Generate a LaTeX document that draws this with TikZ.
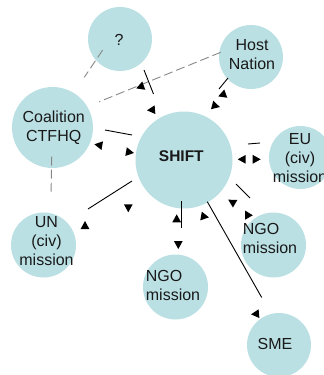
\documentclass[tikz,border=0pt]{standalone}
\usepackage{fontspec}
\setmainfont{Liberation Sans}
\definecolor{bubfill}{RGB}{186,224,228}
\definecolor{dashgray}{RGB}{135,135,135}
\begin{document}
\begin{tikzpicture}[x=1pt,y=1pt,
  bub/.style={circle,fill=bubfill,draw=none,inner sep=0pt},
  txt/.style={inner sep=0pt,align=center,font=\fontsize{16}{19}\selectfont,text=black!90},
  txtl/.style={txt,align=left},
  dashedge/.style={draw=dashgray,dash pattern=on 9pt off 4pt,line width=0.9pt},
  solidedge/.style={draw=black,line width=0.9pt},
  ahd/.pic={\fill[black] (4,0) -- (-4,4.4) -- (-4,-4.4) -- cycle;}]
\useasboundingbox (0,0) rectangle (324,-375);
\clip (0,0) rectangle (324,-375);
% bubbles
\node[bub,minimum size=64] (q) at (120,-39) {};
\node[bub,minimum size=64] (host) at (251,-57) {};
\node[bub,minimum size=81] (coal) at (52.5,-127.5) {};
\node[bub,minimum size=97] (shift) at (184,-160) {};
\node[bub,minimum size=63] (eu) at (300.5,-157.5) {};
\node[bub,minimum size=65] (un) at (43.5,-245) {};
\node[bub,minimum size=65] (ngob) at (175.5,-287) {};
\node[bub,minimum size=65] (ngor) at (273.5,-245) {};
\node[bub,minimum size=64] (sme) at (279,-345) {};
% texts
\node[txt] (qt) at (119,-39.5) {?};
\node[txt] (hostt) at (252,-54.2) {Host\\Nation};
\node[txt] (coalt) at (53.7,-128) {Coalition\\CTFHQ};
\node[txt,font=\fontsize{15.5}{19}\selectfont\bfseries] (shiftt) at (181.3,-156.5) {SHIFT};
\node[txt] (eut) at (300,-157.7) {EU\\(civ)\\mission};
\node[txt] (unt) at (46.5,-240.7) {UN\\(civ)\\mission};
\node[txtl] (ngobt) at (173,-285.9) {NGO\\mission};
\node[txtl] (ngort) at (270,-238.4) {NGO\\mission};
\node[txt] (smet) at (275,-343.5) {SME};
% connector end points
\coordinate (d1a) at (102.7,-50);  \coordinate (d1b) at (84.3,-77.3);
\coordinate (d2a) at (220.7,-52.3); \coordinate (d2b) at (99.3,-101.7);
\coordinate (d3a) at (51.7,-156.7); \coordinate (d3b) at (51,-195);
\coordinate (s1a) at (144,-70);    \coordinate (s1b) at (153.5,-94);
\coordinate (s2a) at (228,-78);    \coordinate (s2b) at (219,-89);
\coordinate (s3a) at (105,-130);   \coordinate (s3b) at (132,-135);
\coordinate (s4a) at (248,-144);   \coordinate (s4b) at (260,-143);
\coordinate (s5a) at (132,-181);   \coordinate (s5b) at (88,-209);
\coordinate (s6a) at (181,-201);   \coordinate (s6b) at (181,-228);
\coordinate (s7a) at (207.3,-201.7); \coordinate (s7b) at (261.7,-297.5);
\coordinate (s8a) at (236,-184);   \coordinate (s8b) at (250,-198);
% dashed links
\draw[dashedge] (d1a) -- (d1b);
\draw[dashedge] (d2a) -- (d2b);
\draw[dashedge] (d3a) -- (d3b);
% solid links
\foreach \s in {s1,s2,s3,s4,s5,s6,s7,s8}
  \draw[solidedge] (\s a) -- (\s b);
% arrowheads
\pic[rotate=200] at (140,-87) {ahd};
\pic[rotate=185] at (151,-110) {ahd};
\pic[rotate=200] at (222,-95) {ahd};
\pic[rotate=-15] at (216,-106) {ahd};
\pic[rotate=170] at (98.3,-145) {ahd};
\pic[rotate=-10] at (130,-152.3) {ahd};
\pic[rotate=180] at (241.7,-159.3) {ahd};
\pic[rotate=0] at (256.7,-159.3) {ahd};
\pic[rotate=270] at (128.3,-208.3) {ahd};
\pic[rotate=90] at (85,-225) {ahd};
\pic[rotate=90] at (176.7,-218.3) {ahd};
\pic[rotate=270] at (178.3,-245) {ahd};
\pic[rotate=-10] at (205,-216.7) {ahd};
\pic[rotate=185] at (255,-314) {ahd};
\pic[rotate=150] at (231.7,-201.7) {ahd};
\pic[rotate=120] at (247,-214) {ahd};
\end{tikzpicture}
\end{document}
